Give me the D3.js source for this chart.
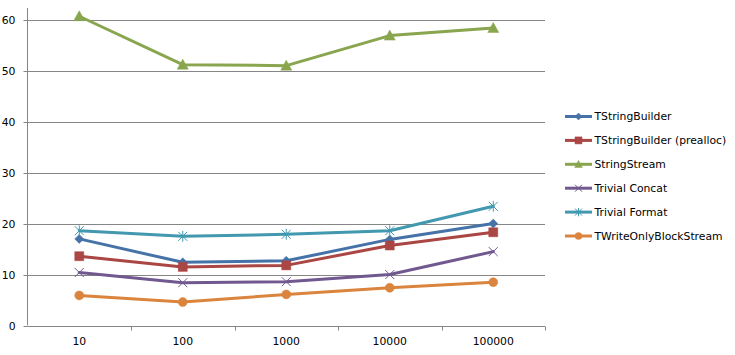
<!DOCTYPE html>
<html><head><meta charset="utf-8">
<script src="https://cdn.jsdelivr.net/npm/d3@7"></script>
<style>
html,body{margin:0;padding:0;background:#fff;}
svg{display:block;}
text{font-family:"DejaVu Sans",Verdana,sans-serif;font-size:10.8px;fill:#000;}
</style></head><body>
<svg id="chart" width="735" height="355"></svg>
<script>
const categories = ["10","100","1000","10000","100000"];
const seriesNames = ["TStringBuilder","TStringBuilder (prealloc)","StringStream","Trivial Concat","Trivial Format","TWriteOnlyBlockStream"];
const tStringBuilder = [17.0, 12.4, 12.7, 16.9, 20.0];
const tStringBuilderPrealloc = [13.6, 11.5, 11.8, 15.7, 18.3];
const stringStream = [60.7, 51.2, 51.0, 56.9, 58.4];
const trivialConcat = [10.4, 8.4, 8.6, 10.0, 14.5];
const trivialFormat = [18.6, 17.5, 17.9, 18.6, 23.4];
const tWriteOnlyBlockStream = [5.9, 4.6, 6.1, 7.4, 8.5];
const yTicks = [0,10,20,30,40,50,60];
const colors = ["#4572A7","#AA4643","#89A54E","#71588F","#4198AF","#DB843D"];
const markers = ["diamond","square","triangle","x","star","circle"];

const values = [tStringBuilder, tStringBuilderPrealloc, stringStream, trivialConcat, trivialFormat, tWriteOnlyBlockStream];
const series = seriesNames.map((n,i)=>({name:n, values:values[i], color:colors[i], marker:markers[i]}));

(function(){
const svg = d3.select("#chart");
const left = 27.5, right = 545, topY = 8, bottom = 325.5;
const x = d3.scaleBand().domain(categories).range([left, right]);
const y = d3.scaleLinear().domain([0, 60]).range([bottom, bottom - 60*5.095]);

// gridlines
svg.append("g").selectAll("line").data(yTicks.filter(d=>d>0)).join("line")
  .attr("x1", left).attr("x2", right)
  .attr("y1", d=>Math.round(y(d))+0.5).attr("y2", d=>Math.round(y(d))+0.5)
  .attr("stroke", "#868686").attr("stroke-width", 1);

// y axis
const yAxis = d3.axisLeft(y).tickValues(yTicks).tickSize(4).tickPadding(8).tickFormat(d3.format("d"));
const gy = svg.append("g").attr("transform", `translate(${left},0)`).call(yAxis);
gy.select(".domain").attr("d", `M0,${topY}V${bottom}`).attr("stroke","#868686");
gy.selectAll(".tick line").attr("stroke","#868686");
gy.selectAll(".tick").attr("transform", d=>`translate(0,${Math.round(y(d))+0.5})`);
gy.selectAll("text").attr("fill","#000").style("font-size","10.8px").style("font-family","DejaVu Sans");

// x axis
const gx = svg.append("g").attr("transform", `translate(0,${Math.round(bottom)+0.5})`);
gx.append("line").attr("x1", left).attr("x2", right).attr("stroke","#868686");
const boundaries = categories.map((c,i)=>x(c)+x.bandwidth());
gx.selectAll("line.tk").data(boundaries).join("line").attr("class","tk")
  .attr("x1", d=>Math.round(d)+0.5).attr("x2", d=>Math.round(d)+0.5).attr("y1",0).attr("y2",4)
  .attr("stroke","#868686");
gx.selectAll("text").data(categories).join("text")
  .attr("x", d=>x(d)+x.bandwidth()/2).attr("y", 18.5)
  .attr("text-anchor","middle").text(d=>d);

function markerPath(type, s){
  const h = s/2;
  switch(type){
    case "diamond": return `M0,${-h}L${h},0L0,${h}L${-h},0Z`;
    case "square": return `M${-h},${-h}H${h}V${h}H${-h}Z`;
    case "triangle": return `M0,${-h*1.1}L${h*1.1},${h*0.9}L${-h*1.1},${h*0.9}Z`;
    case "x": return `M${-h},${-h}L${h},${h}M${-h},${h}L${h},${-h}`;
    case "star": return `M${-h},${-h}L${h},${h}M${-h},${h}L${h},${-h}M0,${-h*1.2}V${h*1.2}`;
    case "circle": return d3.symbol(d3.symbolCircle, Math.PI*h*h)();
  }
}
function drawMarker(g, type, color, s){
  const open = (type==="x"||type==="star");
  g.append("path").attr("d", markerPath(type, s))
    .attr("fill", open ? "none" : color)
    .attr("stroke", color).attr("stroke-width", open ? 1 : 0.5);
}

const line = d3.line().x((d,i)=>x(categories[i])+x.bandwidth()/2).y(d=>y(d));
const plot = svg.append("g");
series.forEach(s=>{
  plot.append("path").datum(s.values).attr("d", line)
    .attr("fill","none").attr("stroke", s.color).attr("stroke-width", 3)
    .attr("stroke-linejoin","round").attr("stroke-linecap","round");
  s.values.forEach((v,i)=>{
    const g = plot.append("g").attr("transform", `translate(${x(categories[i])+x.bandwidth()/2},${y(v)})`);
    const size = {diamond:9, square:9, triangle:10, x:9, star:9, circle:9}[s.marker];
    drawMarker(g, s.marker, s.color, size);
  });
});

// legend
const legend = svg.append("g");
series.forEach((s,i)=>{
  const cy = 116.5 + i*23.9;
  const g = legend.append("g").attr("transform", `translate(0,${cy})`);
  g.append("line").attr("x1",565).attr("x2",592).attr("y1",0).attr("y2",0)
    .attr("stroke", s.color).attr("stroke-width",3);
  const m = g.append("g").attr("transform","translate(578.5,0)");
  drawMarker(m, s.marker, s.color, 7);
  g.append("text").attr("x",594.5).attr("y",0).attr("dy","0.35em").text(s.name);
});
})();
</script>
</body></html>
